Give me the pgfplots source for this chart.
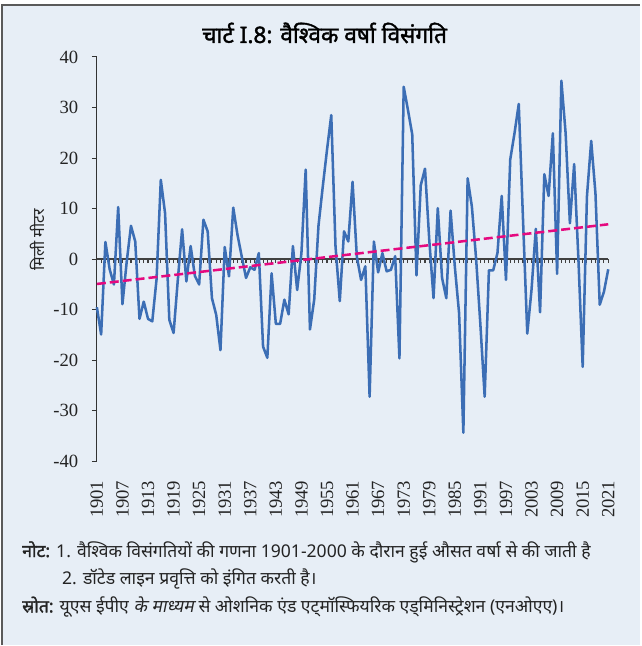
\documentclass[border=0pt]{standalone}
\usepackage{fontspec}
\usepackage{pgfplots}
\pgfplotsset{compat=1.18}
\setmainfont{Liberation Serif}
\newfontfamily\deva[Script=Devanagari]{Noto Sans}
\newfontfamily\devab[Script=Devanagari,FakeBold=1.6]{Noto Sans}
\newfontfamily\devasl[Script=Devanagari,FakeSlant=0.2]{Noto Sans}
\definecolor{bgblue}{RGB}{231,238,246}
\definecolor{bordergray}{RGB}{90,90,90}
\definecolor{lineblue}{RGB}{60,110,181}
\definecolor{trendpink}{RGB}{229,9,127}
\definecolor{txt}{RGB}{35,35,35}

\pgfplotstableread{
year val
1901 -9.5
1902 -14.9
1903 3.4
1904 -2
1905 -5
1906 10.3
1907 -8.9
1908 -0.5
1909 6.6
1910 3.5
1911 -11.8
1912 -8.4
1913 -11.8
1914 -12.3
1915 -4
1916 15.7
1917 9.1
1918 -12
1919 -14.6
1920 -4
1921 5.9
1922 -4.4
1923 2.6
1924 -3.3
1925 -5
1926 7.8
1927 5.5
1928 -7.7
1929 -11
1930 -18
1931 2.4
1932 -3.4
1933 10.2
1934 4.8
1935 0.5
1936 -3.7
1937 -1.6
1938 -2.1
1939 1.2
1940 -17.3
1941 -19.5
1942 -2.8
1943 -12.8
1944 -12.8
1945 -8
1946 -10.9
1947 2.6
1948 -6.1
1949 1.2
1950 17.7
1951 -13.9
1952 -8
1953 6.6
1954 14.3
1955 21.6
1956 28.5
1957 2.5
1958 -8.3
1959 5.5
1960 3.5
1961 15.3
1962 0.5
1963 -4.1
1964 -1.4
1965 -27.2
1966 3.5
1967 -2.6
1968 1.2
1969 -2.4
1970 -2.1
1971 0.6
1972 -19.6
1973 34.1
1974 29.5
1975 24.7
1976 -3.2
1977 14.6
1978 17.9
1979 3.8
1980 -7.7
1981 10.1
1982 -3.7
1983 -7.7
1984 9.6
1985 -1.5
1986 -10.7
1987 -34.3
1988 16
1989 10.4
1990 0
1991 -13
1992 -27.2
1993 -2.2
1994 -2.2
1995 1.2
1996 12.5
1997 -4.1
1998 19.7
1999 24.9
2000 30.7
2001 7.8
2002 -14.7
2003 -6
2004 6
2005 -10.5
2006 16.8
2007 12.5
2008 24.9
2009 -2.9
2010 35.3
2011 24.9
2012 7.1
2013 18.8
2014 0
2015 -21.3
2016 12.4
2017 23.4
2018 13
2019 -9
2020 -6.4
2021 -2
}\rain

\begin{document}
\begin{tikzpicture}
\fill[white] (0,0) rectangle (480.75pt,-484.5pt);
\fill[bgblue] (1.5pt,-3.75pt) rectangle (480.75pt,-484.5pt);
\draw[bordergray, line width=1.2pt] (1.5pt,-484.5pt) -- (1.5pt,-3.75pt) -- (480.75pt,-3.75pt);
\node[font=\devab\fontsize{17}{20}\selectfont, text=black] at (243.75pt,-24.75pt) {चार्ट I.8: वैश्विक वर्षा विसंगति};
\node[rotate=90, font=\deva\fontsize{12}{14}\selectfont, text=txt] at (27.75pt,-180pt) {मिली मीटर};

% zero line with yearly ticks
\begin{axis}[at={(72.75pt,-346.5pt)}, anchor=south west, scale only axis,
  width=384pt, height=303.75pt,
  xmin=1901, xmax=2021, ymin=-40, ymax=40,
  axis x line*=middle, axis y line=none,
  xtick={1901,1902,...,2021}, xticklabels={},
  tick align=outside, major tick length=3pt,
  tick style={black!75, line width=0.8pt},
  x axis line style={black!75, line width=1.1pt}]
\end{axis}

\begin{axis}[at={(72.75pt,-346.5pt)}, anchor=south west, scale only axis,
  width=384pt, height=303.75pt,
  xmin=1901, xmax=2021, ymin=-40, ymax=40,
  axis y line*=left, axis x line*=bottom,
  x axis line style={draw=none},
  xtick={1901,1907,...,2021}, xtick style={draw=none},
  ytick={-40,-30,...,40},
  tick align=outside, major tick length=3.75pt,
  y tick style={black!80, line width=0.75pt},
  y axis line style={black!80, line width=0.75pt},
  /pgf/number format/1000 sep={},
  /pgf/number format/assume math mode=true,
  tick label style={font=\fontsize{14}{16}\selectfont, text=txt},
  x tick label style={yshift=-10.5pt, rotate=90, anchor=east, inner sep=0pt},
  y tick label style={anchor=east, inner sep=0pt, xshift=-10pt},
  clip=false]
\addplot[lineblue, line width=1.9pt, line join=round] table[x=year, y=val] {\rain};
\addplot[trendpink, line width=1.9pt, dash pattern=on 6.75pt off 3pt] coordinates {(1901,-4.9) (2021,6.9)};
\end{axis}

\node[anchor=west, inner sep=0pt, font=\deva\fontsize{13.2}{15}\selectfont, text=txt] at (16.5pt,-414.5pt) {{\devab नोट:} 1. वैश्विक विसंगतियों की गणना 1901-2000 के दौरान हुई औसत वर्षा से की जाती है};
\node[anchor=west, inner sep=0pt, font=\deva\fontsize{13.2}{15}\selectfont, text=txt] at (46.5pt,-434.75pt) {2. डॉटेड लाइन प्रवृत्ति को इंगित करती है।};
\node[anchor=west, inner sep=0pt, font=\deva\fontsize{13.2}{15}\selectfont, text=txt] at (16.5pt,-455.75pt) {{\devab स्रोत:} यूएस ईपीए {\devasl के माध्यम} से ओशनिक एंड एट्मॉस्फियरिक एड्मिनिस्ट्रेशन (एनओएए)।};
\end{tikzpicture}
\end{document}
